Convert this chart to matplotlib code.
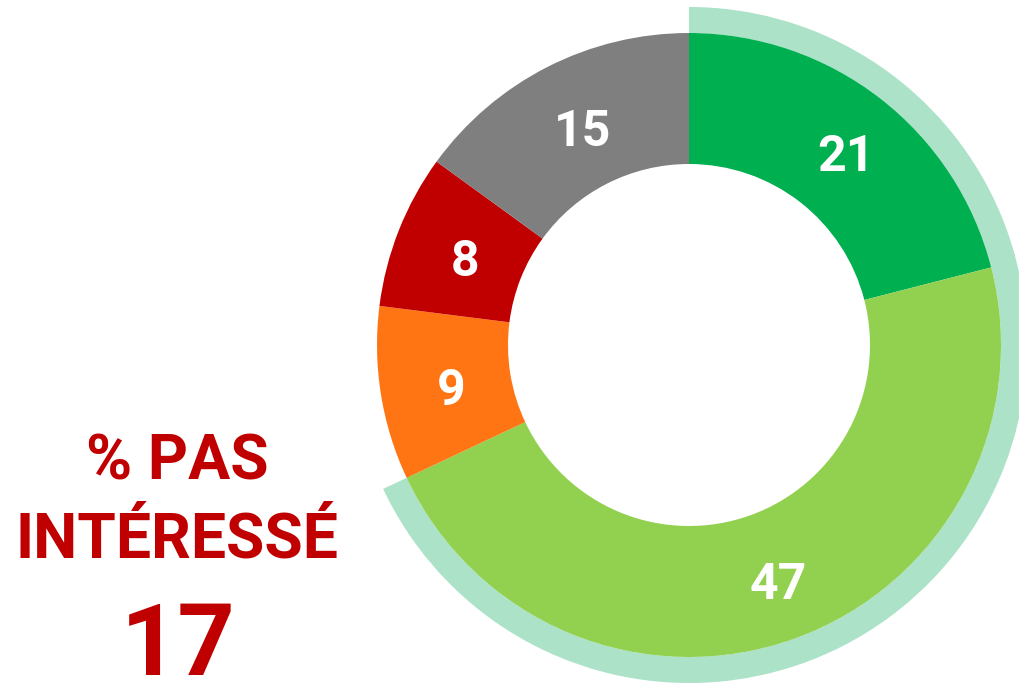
import numpy as np
import matplotlib.pyplot as plt

# donut data (clockwise from top)
labels = ['21', '47', '9', '8', '15']
values = [21, 47, 9, 8, 15]
colors = ['#00B050', '#92D050', '#FF7514', '#C00000', '#7F7F7F']

# outer highlight ring covers the two green slices
ring_values = [values[0] + values[1], sum(values[2:])]
ring_colors = ['#ACE2C8', 'none']

title_lines = ['% PAS', 'INTÉRESSÉ']
not_interested = '17'

red = '#C00000'
font = ['Roboto', 'DejaVu Sans']

fig = plt.figure(figsize=(10.2, 6.86), dpi=100)
ax = fig.add_axes([0, 0, 1, 1])

cx, cy = 689, 341
ax.pie(ring_values, colors=ring_colors, startangle=90, counterclock=False,
       center=(cx, cy), radius=338, wedgeprops=dict(width=26, linewidth=0))

wedges, _ = ax.pie(values, colors=colors, startangle=90, counterclock=False,
                   center=(cx, cy), radius=312,
                   wedgeprops=dict(width=131, linewidth=0))

# value labels in the middle of each slice
for w, lab in zip(wedges, labels):
    ang = np.deg2rad((w.theta1 + w.theta2) / 2)
    r = 247
    ax.text(cx + r * np.cos(ang) + 6, cy + r * np.sin(ang) - 8, lab,
            ha='center', va='center', color='white', fontsize=36,
            fontweight='bold', family=font)

ax.text(177, 206, title_lines[0], ha='center', va='baseline', color=red,
        fontsize=45, fontweight='bold', family=font)
ax.text(177, 129, title_lines[1], ha='center', va='baseline', color=red,
        fontsize=45, fontweight='bold', family=font)
ax.text(178, 11, not_interested, ha='center', va='baseline', color=red,
        fontsize=72, fontweight='bold', family=font)

ax.set_xlim(0, 1020)
ax.set_ylim(0, 686)
ax.set_aspect('equal')
ax.set_axis_off()

fig.savefig('out.png', dpi=100)
